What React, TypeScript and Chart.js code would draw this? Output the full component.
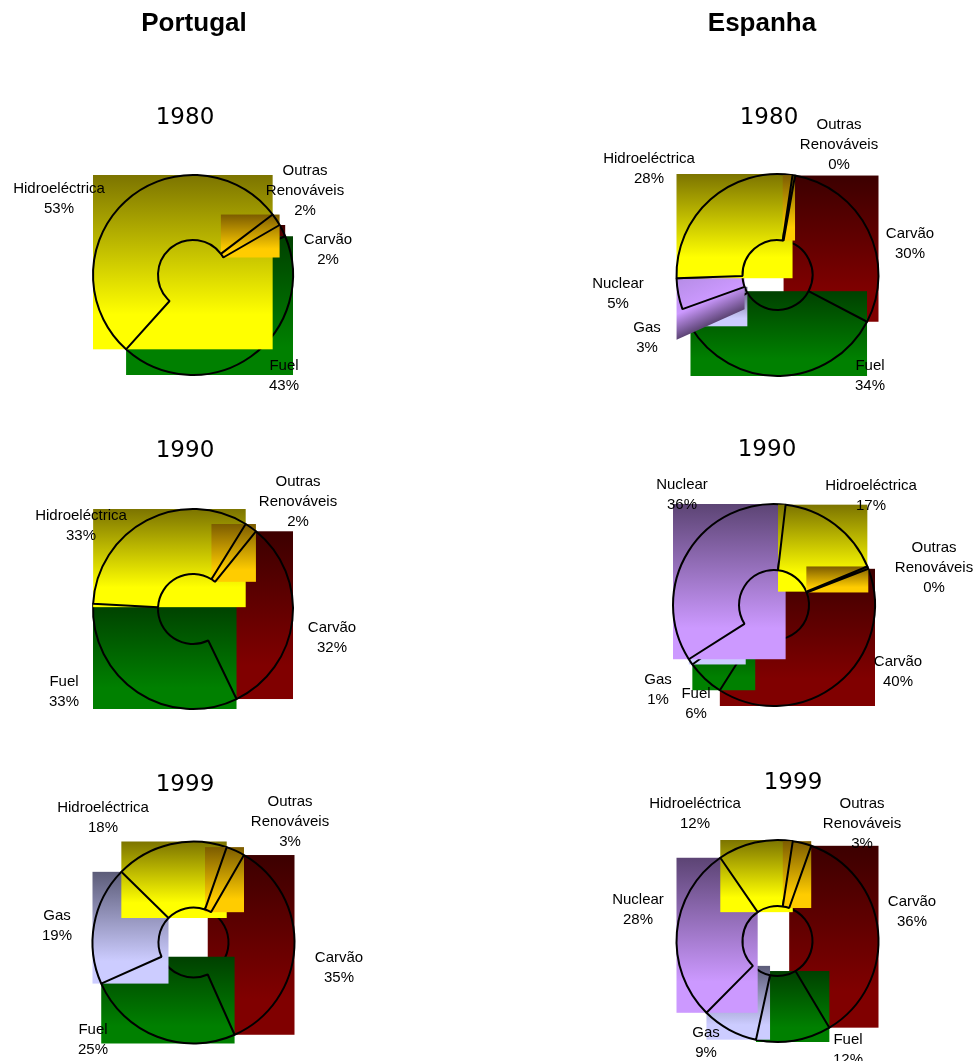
import React, { useEffect, useRef } from "react";
import { Chart, registerables } from "chart.js";

Chart.register(...registerables);

const PAGE_W = 977;
const PAGE_H = 1061;

// Slice order around each ring, clockwise from the rotation angle.
const categories = ["Carvão", "Fuel", "Gas", "Nuclear", "Hidroeléctrica", "Outras Renováveis"];

// Electricity production shares in percent, same order as categories.
const portugal1980 = [2, 43, 0, 0, 53, 2];
const portugal1990 = [32, 33, 0, 0, 33, 2];
const portugal1999 = [35, 25, 19, 0, 18, 3];
const espanha1980 = [30, 34, 3, 5, 28, 0.4];
const espanha1990 = [40, 6, 1, 36, 17, 0.4];
const espanha1999 = [36, 12, 9, 28, 12, 3];

// Dark and bright end of the vertical gradient of each category.
const darkShades = ["#3c0000", "#004000", "#5c5c78", "#5c4474", "#7c7400", "#7c5c00"];
const brightShades = ["#800000", "#008000", "#ccccff", "#cc99ff", "#ffff00", "#ffcc00"];

type Spot = [number, number]; // centre x, middle of first line y; null when unlabelled

interface Ring {
  year: string;
  values: number[];
  cx: number;
  cy: number;
  radius: number;
  hole: number;
  rotation: number;
  yearX: number;
  yearY: number;
  spots: (Spot | null)[];
  shear?: { index: number; drop: number };
}

const rings: Ring[] = [
  {
    year: "1980", values: portugal1980, cx: 193, cy: 275, radius: 100, hole: 35, rotation: 60,
    yearX: 185, yearY: 116,
    spots: [[328, 240], [284, 366], null, null, [59, 189], [305, 171]],
  },
  {
    year: "1990", values: portugal1990, cx: 193, cy: 609, radius: 100, hole: 35, rotation: 39,
    yearX: 185, yearY: 449,
    spots: [[332, 628], [64, 682], null, null, [81, 516], [298, 482]],
  },
  {
    year: "1999", values: portugal1999, cx: 193.5, cy: 942.5, radius: 101, hole: 35, rotation: 30,
    yearX: 185, yearY: 783,
    spots: [[339, 958], [93, 1030], [57, 916], null, [103, 808], [290, 802]],
  },
  {
    year: "1980", values: espanha1980, cx: 777.5, cy: 275, radius: 101, hole: 35, rotation: 10,
    yearX: 769, yearY: 116,
    spots: [[910, 234], [870, 366], [647, 328], [618, 284], [649, 159], [839, 125]],
    shear: { index: 3, drop: 0.45 },
  },
  {
    year: "1990", values: espanha1990, cx: 774, cy: 605, radius: 101, hole: 35, rotation: 69,
    yearX: 767, yearY: 448,
    spots: [[898, 662], [696, 694], [658, 680], [682, 485], [871, 486], [934, 548]],
  },
  {
    year: "1999", values: espanha1999, cx: 777.5, cy: 941, radius: 101, hole: 35, rotation: 19.5,
    yearX: 793, yearY: 781,
    spots: [[912, 902], [848, 1040], [706, 1033], [638, 900], [695, 804], [862, 804]],
  },
];

const countryTitles: [string, number][] = [["Portugal", 194], ["Espanha", 762]];

// Smallest axis-aligned box around a ring sector.
function sectorBox(arc: any) {
  const { x, y, startAngle, endAngle, innerRadius, outerRadius } = arc;
  const xs: number[] = [];
  const ys: number[] = [];
  const add = (a: number, r: number) => {
    xs.push(x + r * Math.cos(a));
    ys.push(y + r * Math.sin(a));
  };
  [startAngle, endAngle].forEach((a: number) => {
    add(a, innerRadius);
    add(a, outerRadius);
  });
  const q = Math.PI / 2;
  for (let k = Math.ceil(startAngle / q); k * q <= endAngle; k++) add(k * q, outerRadius);
  return {
    x0: Math.min(...xs),
    x1: Math.max(...xs),
    y0: Math.min(...ys),
    y1: Math.max(...ys),
  };
}

// One sector at a time: its gradient box, then its outline, so that later
// sectors paint over the earlier ones. Replaces the default dataset drawing.
const sectorFill = {
  id: "sectorFill",
  beforeDatasetDraw(chart: any, _args: any, opts: any) {
    const ctx = chart.ctx;
    const arcs = chart.getDatasetMeta(0).data;
    const values = chart.data.datasets[0].data;
    ctx.save();
    arcs.forEach((arc: any, i: number) => {
      if (!values[i]) return;
      const { x0, x1, y0, y1 } = sectorBox(arc);
      if (opts.shear && opts.shear.index === i) {
        const drop = opts.shear.drop;
        const w = x1 - x0;
        const len = Math.hypot(1, drop);
        const dx = 1 / len;
        const dy = -drop / len;
        const along = (x0 - x1) * dx + (y0 - y1) * dy;
        const g = ctx.createLinearGradient(x0, y0, x1 + dx * along, y1 + dy * along);
        g.addColorStop(0, "#b48ce4");
        g.addColorStop(0.6, brightShades[i]);
        g.addColorStop(1, darkShades[i]);
        ctx.fillStyle = g;
        ctx.beginPath();
        ctx.moveTo(x0, y0);
        ctx.lineTo(x1, y0);
        ctx.lineTo(x1, y1);
        ctx.lineTo(x0, y1 + drop * w);
        ctx.closePath();
        ctx.fill();
      } else {
        const g = ctx.createLinearGradient(0, y0, 0, y1);
        g.addColorStop(0, darkShades[i]);
        g.addColorStop(0.8, brightShades[i]);
        g.addColorStop(1, brightShades[i]);
        ctx.fillStyle = g;
        ctx.fillRect(x0, y0, x1 - x0, y1 - y0);
      }
      arc.draw(ctx, chart.chartArea);
    });
    ctx.restore();
    return false;
  },
};

// Writes the category name and rounded share beside each sector.
const sectorLabels = {
  id: "sectorLabels",
  afterDraw(chart: any, _args: any, opts: any) {
    const ctx = chart.ctx;
    const values = chart.data.datasets[0].data;
    ctx.save();
    ctx.font = "15px 'Liberation Sans'";
    ctx.fillStyle = "#000";
    ctx.textAlign = "center";
    ctx.textBaseline = "middle";
    chart.data.labels.forEach((name: string, i: number) => {
      const spot = opts.spots[i];
      if (!spot) return;
      const lines = name.split(" ");
      lines.push(`${Math.round(values[i])}%`);
      lines.forEach((line: string, k: number) => {
        ctx.fillText(line, spot[0], spot[1] + k * 20);
      });
    });
    ctx.restore();
  },
};

function RingChart({ ring }: { ring: Ring }) {
  const ref = useRef<HTMLCanvasElement>(null);
  useEffect(() => {
    const half = ring.radius + 1;
    const chart = new Chart(ref.current as HTMLCanvasElement, {
      type: "doughnut",
      data: {
        labels: categories,
        datasets: [
          {
            data: ring.values,
            backgroundColor: "transparent",
            borderColor: "#000",
            borderWidth: 2,
          },
        ],
      },
      options: {
        responsive: false,
        animation: false,
        rotation: ring.rotation,
        cutout: ring.hole,
        layout: {
          padding: {
            left: ring.cx - half,
            right: PAGE_W - ring.cx - half,
            top: ring.cy - half,
            bottom: PAGE_H - ring.cy - half,
          },
        },
        plugins: {
          legend: { display: false },
          tooltip: { enabled: false },
          sectorFill: { shear: ring.shear },
          sectorLabels: { spots: ring.spots },
        } as any,
      },
      plugins: [sectorFill, sectorLabels],
    });
    return () => chart.destroy();
  }, [ring]);
  return (
    <canvas
      ref={ref}
      width={PAGE_W}
      height={PAGE_H}
      style={{ position: "absolute", left: 0, top: 0, width: PAGE_W, height: PAGE_H }}
    />
  );
}

const centred: React.CSSProperties = {
  position: "absolute",
  transform: "translate(-50%, -50%)",
  whiteSpace: "nowrap",
  color: "#000",
};

export default function App() {
  return (
    <div
      style={{
        position: "absolute",
        left: 0,
        top: 0,
        width: PAGE_W,
        height: PAGE_H,
        overflow: "hidden",
        background: "#fff",
      }}
    >
      {rings.map((ring, i) => (
        <RingChart key={i} ring={ring} />
      ))}
      {countryTitles.map(([name, x]) => (
        <div
          key={name}
          style={{
            ...centred,
            left: x,
            top: 22,
            font: "bold 26px 'Liberation Sans'",
          }}
        >
          {name}
        </div>
      ))}
      {rings.map((ring, i) => (
        <div
          key={i}
          style={{
            ...centred,
            left: ring.yearX,
            top: ring.yearY,
            font: "23px 'DejaVu Sans'",
          }}
        >
          {ring.year}
        </div>
      ))}
    </div>
  );
}
